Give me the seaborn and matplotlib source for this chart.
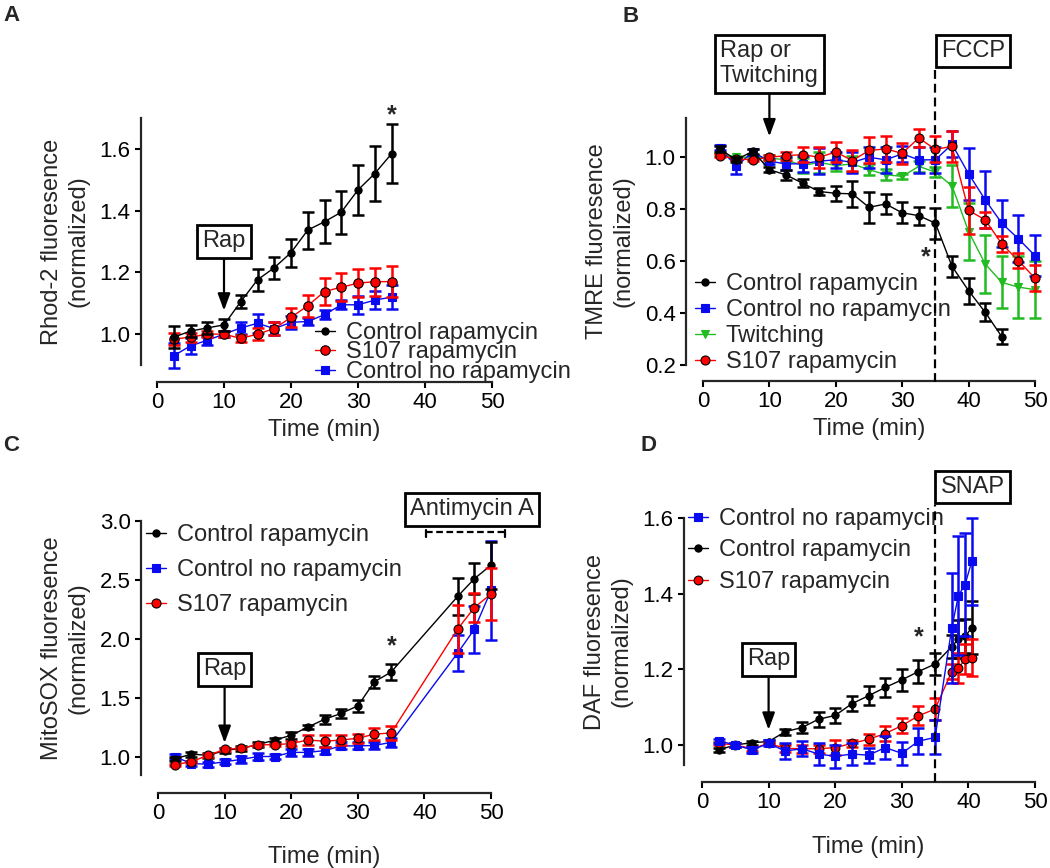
import numpy as np
import pandas as pd
import matplotlib
matplotlib.use('Agg')
import matplotlib.pyplot as plt
import seaborn as sns

sns.set_theme(style='ticks')
plt.rcParams['font.family'] = ['Liberation Sans', 'DejaVu Sans']
plt.rcParams['axes.linewidth'] = 1.6

# ---------------- data ----------------
# Panel A  (Rhod-2)
A_x = [2.5, 5, 7.5, 10, 12.5, 15, 17.5, 20, 22.5, 25, 27.5, 30, 32.5, 35]
A_ctrl_rap = [0.99, 1.01, 1.02, 1.03, 1.105, 1.176, 1.215, 1.264, 1.337, 1.364, 1.395, 1.467, 1.52, 1.584]
A_ctrl_rap_err = [0.035, 0.02, 0.02, 0.02, 0.022, 0.035, 0.035, 0.045, 0.06, 0.07, 0.07, 0.08, 0.09, 0.095]
A_s107 = [0.984, 0.99, 1.0, 1.0, 0.986, 1.0, 1.018, 1.054, 1.092, 1.138, 1.152, 1.165, 1.17, 1.17]
A_s107_err = [0.02, 0.015, 0.01, 0.01, 0.01, 0.02, 0.02, 0.03, 0.035, 0.045, 0.045, 0.045, 0.045, 0.05]
A_norap = [0.93, 0.962, 0.98, 1.0, 1.02, 1.035, 1.018, 1.038, 1.041, 1.063, 1.095, 1.095, 1.11, 1.12]
A_norap_err = [0.04, 0.025, 0.015, 0.01, 0.02, 0.03, 0.02, 0.02, 0.01, 0.015, 0.015, 0.03, 0.03, 0.04]

# Panel B  (TMRE)
B_x = [2.5, 5, 7.5, 10, 12.5, 15, 17.5, 20, 22.5, 25, 27.5, 30, 32.5, 35, 37.5, 40, 42.5, 45, 47.5, 50]
B_ctrl_rap = [1.032, 0.99, 1.023, 0.952, 0.932, 0.90, 0.868, 0.861, 0.859, 0.807, 0.82, 0.786, 0.775, 0.746,
              0.58, 0.486, 0.403, 0.309]
B_ctrl_rap_err = [0.01, 0.01, 0.01, 0.01, 0.02, 0.015, 0.012, 0.03, 0.05, 0.06, 0.04, 0.04, 0.035, 0.06,
                  0.04, 0.05, 0.035, 0.03]
B_norap = [1.036, 0.965, 1.02, 0.985, 0.974, 0.975, 0.985, 0.99, 0.98, 1.0, 0.99, 1.013, 0.99, 0.99,
           1.05, 0.936, 0.836, 0.746, 0.686, 0.621]
B_norap_err = [0.01, 0.03, 0.01, 0.01, 0.025, 0.03, 0.05, 0.03, 0.04, 0.04, 0.05, 0.03, 0.05, 0.05,
               0.05, 0.1, 0.11, 0.09, 0.09, 0.08]
B_twitch = [1.01, 1.0, 1.0, 0.997, 0.99, 0.968, 0.98, 0.968, 0.974, 0.952, 0.933, 0.926, 0.965, 0.942,
            0.89, 0.714, 0.589, 0.518, 0.5, 0.49]
B_twitch_err = [0.005, 0.005, 0.005, 0.01, 0.01, 0.03, 0.04, 0.02, 0.03, 0.02, 0.02, 0.01, 0.02, 0.02,
                0.08, 0.11, 0.11, 0.1, 0.12, 0.11]
B_s107 = [1.006, 0.994, 0.99, 1.0, 1.006, 1.01, 1.0, 1.02, 0.987, 1.026, 1.032, 1.015, 1.074, 1.03,
          1.042, 0.795, 0.759, 0.666, 0.602, 0.534]
B_s107_err = [0.005, 0.005, 0.005, 0.01, 0.015, 0.03, 0.04, 0.04, 0.04, 0.05, 0.05, 0.04, 0.035, 0.05,
              0.06, 0.09, 0.03, 0.03, 0.03, 0.05]

# Panel C  (MitoSOX)
C_x = [2.5, 5, 7.5, 10, 12.5, 15, 17.5, 20, 22.5, 25, 27.5, 30, 32.5, 35, 45, 47.5, 50]
C_ctrl_rap = [0.98, 1.02, 1.01, 1.05, 1.07, 1.10, 1.14, 1.18, 1.25, 1.316, 1.366, 1.43, 1.635, 1.717,
              2.36, 2.51, 2.625]
C_ctrl_rap_err = [0.02, 0.02, 0.02, 0.02, 0.02, 0.02, 0.02, 0.03, 0.02, 0.04, 0.04, 0.05, 0.05, 0.07,
                  0.16, 0.13, 0.2]
C_norap = [1.0, 0.94, 0.935, 0.956, 0.975, 1.0, 1.0, 1.035, 1.035, 1.05, 1.09, 1.09, 1.094, 1.12,
           1.88, 2.08, 2.41]
C_norap_err = [0.02, 0.02, 0.02, 0.02, 0.03, 0.03, 0.02, 0.03, 0.03, 0.03, 0.03, 0.03, 0.03, 0.04,
               0.15, 0.2, 0.42]
C_s107 = [0.93, 0.956, 1.01, 1.06, 1.07, 1.10, 1.10, 1.11, 1.14, 1.13, 1.14, 1.155, 1.19, 1.2,
          2.083, 2.265, 2.38]
C_s107_err = [0.01, 0.01, 0.01, 0.01, 0.01, 0.01, 0.01, 0.02, 0.04, 0.05, 0.04, 0.04, 0.05, 0.06,
              0.2, 0.12, 0.22]

# Panel D  (DAF)
D_x = [2.5, 5, 7.5, 10, 12.5, 15, 17.5, 20, 22.5, 25, 27.5, 30, 32.5, 35, 37.5, 38.5, 39.5, 40.5]
D_norap = [1.011, 1.0, 0.987, 1.004, 0.984, 0.99, 0.976, 0.97, 0.976, 0.973, 0.993, 0.978, 1.01, 1.02,
           1.309, 1.395, 1.424, 1.485]
D_norap_err = [0.005, 0.005, 0.008, 0.008, 0.02, 0.02, 0.03, 0.03, 0.03, 0.02, 0.03, 0.03, 0.035, 0.045,
               0.146, 0.158, 0.136, 0.115]
D_ctrl_rap = [0.987, 1.0, 1.006, 1.009, 1.035, 1.046, 1.068, 1.078, 1.109, 1.13, 1.152, 1.172, 1.194, 1.214,
              1.26, 1.28, 1.287, 1.31]
D_ctrl_rap_err = [0.005, 0.005, 0.005, 0.005, 0.008, 0.015, 0.02, 0.02, 0.02, 0.025, 0.025, 0.03, 0.03, 0.03,
                  0.03, 0.05, 0.045, 0.07]
D_s107 = [1.004, 1.0, 0.99, 1.004, 0.991, 0.99, 0.99, 0.993, 1.004, 1.015, 1.03, 1.051, 1.077, 1.095,
          1.194, 1.203, 1.227, 1.231]
D_s107_err = [0.005, 0.005, 0.005, 0.005, 0.01, 0.01, 0.01, 0.02, 0.01, 0.015, 0.02, 0.02, 0.025, 0.03,
              0.02, 0.04, 0.04, 0.05]

X_TICKS = [0, 10, 20, 30, 40, 50]

BLACK = '#000000'
BLUE = '#0A0AF0'
RED = '#FF0000'
GREEN = '#22BB22'

W, H = 1050, 868
fig = plt.figure(figsize=(10.5, 8.68), dpi=100)
PX = 0.72  # points per pixel


def make_ax(x0, x1, yt, yb, ylim, yticks, yfmt, ylabel, out_l, out_b, ylpad, xlpad):
    ax = fig.add_axes([x0 / W, 1 - yb / H, (x1 - x0) / W, (yb - yt) / H])
    ax.set_xlim(0, 50)
    ax.set_ylim(*ylim)
    for s in ['top', 'right']:
        ax.spines[s].set_visible(False)
    ax.spines['left'].set_position(('outward', out_l * PX))
    ax.spines['bottom'].set_position(('outward', out_b * PX))
    ax.spines['left'].set_linewidth(1.6)
    ax.spines['bottom'].set_linewidth(1.6)
    ax.set_xticks(X_TICKS)
    ax.set_yticks(yticks)
    ax.set_yticklabels([yfmt.format(v) for v in yticks])
    ax.tick_params(direction='out', length=4.5, width=1.5, labelsize=16, pad=3, colors='black')
    ax.set_xlabel('Time (min)', fontsize=17, labelpad=xlpad)
    ax.set_ylabel(ylabel, fontsize=17, labelpad=ylpad, linespacing=1.3)
    ax.patch.set_alpha(0)
    return ax


def series(ax, x, y, err, color, marker, ms, mec, label, z):
    ax.errorbar(x, y, yerr=err, fmt='none', ecolor=color, elinewidth=1.8, capsize=4,
                capthick=1.8, zorder=z, clip_on=False)
    sns.lineplot(x=x, y=y, ax=ax, color=color, marker=marker, markersize=ms,
                 markeredgecolor=mec, markeredgewidth=0.8, linewidth=1.0, label=label,
                 zorder=z + 0.5, clip_on=False, errorbar=None, sort=False)


def legend(ax, handles_order, x_px, y_top_px, spacing):
    h, l = ax.get_legend_handles_labels()
    d = dict(zip(l, h))
    ax.legend([d[k] for k in handles_order], handles_order, loc='upper left',
              bbox_to_anchor=(x_px / W, 1 - y_top_px / H), bbox_transform=fig.transFigure,
              frameon=False, fontsize=17, handlelength=0.85, handletextpad=0.45,
              labelspacing=spacing, borderpad=0, borderaxespad=0)


def boxed(ax, text, xy_text, xy_tip=None, ha='center'):
    bbox = dict(boxstyle='square,pad=0.22', fc='white', ec='black', lw=2)
    if xy_tip is None:
        ax.annotate(text, xy=xy_text, xytext=xy_text, ha=ha, va='center', fontsize=17,
                    bbox=bbox, annotation_clip=False, zorder=10, multialignment='left')
    else:
        ax.annotate(text, xy=xy_tip, xytext=xy_text, ha=ha, va='center', fontsize=17,
                    bbox=bbox, annotation_clip=False, zorder=10, multialignment='left',
                    arrowprops=dict(arrowstyle='-|>,head_length=0.6,head_width=0.22',
                                    color='black', lw=1.6, shrinkA=0, shrinkB=0))


def star(ax, x, y):
    ax.text(x, y, '*', ha='center', va='center', fontsize=18, fontweight='bold', clip_on=False)


# ---------------- Panel A ----------------
axA = make_ax(157, 492, 118, 365, (0.9, 1.7), [1.0, 1.2, 1.4, 1.6], '{:.1f}',
              'Rhod-2 fluoresence\n(normalized)', 16, 17, 7, 4)
series(axA, A_x, A_norap, A_norap_err, BLUE, 's', 5.5, BLUE, 'Control no rapamycin', 2)
series(axA, A_x, A_s107, A_s107_err, RED, 'o', 6.8, BLACK, 'S107 rapamycin', 3)
series(axA, A_x, A_ctrl_rap, A_ctrl_rap_err, BLACK, 'o', 5.2, BLACK, 'Control rapamycin', 4)
legend(axA, ['Control rapamycin', 'S107 rapamycin', 'Control no rapamycin'], 315, 322, -0.11)
boxed(axA, 'Rap', (10, 1.30), (10, 1.076))
star(axA, 35, 1.71)

# ---------------- Panel B ----------------
axB = make_ax(703, 1035, 118, 365, (0.2, 1.151), [0.2, 0.4, 0.6, 0.8, 1.0], '{:.1f}',
              'TMRE fluoresence\n(normalized)', 17, 16, 7, 4)
series(axB, B_x, B_twitch, B_twitch_err, GREEN, 'v', 6.2, GREEN, 'Twitching', 2)
series(axB, B_x, B_norap, B_norap_err, BLUE, 's', 6.0, BLUE, 'Control no rapamycin', 3)
series(axB, B_x, B_s107, B_s107_err, RED, 'o', 6.5, BLACK, 'S107 rapamycin', 4)
series(axB, B_x[:len(B_ctrl_rap)], B_ctrl_rap, B_ctrl_rap_err, BLACK, 'o', 5.2, BLACK,
       'Control rapamycin', 5)
legend(axB, ['Control rapamycin', 'Control no rapamycin', 'Twitching', 'S107 rapamycin'], 695, 273, 0.17)
boxed(axB, 'Rap or\nTwitching', (10, 1.36), (10, 1.08))
boxed(axB, 'FCCP', (40.7, 1.41))
axB.plot([35, 35], [0.134, 1.34], color='black', lw=1.6, ls=(0, (4, 2.2)), clip_on=False, zorder=6)
star(axB, 33.6, 0.615)

# ---------------- Panel C ----------------
axC = make_ax(158, 491, 521, 775, (0.843, 3.0), [1.0, 1.5, 2.0, 2.5, 3.0], '{:.1f}',
              'MitoSOX fluoresence\n(normalized)', 17, 17.6, 7, 16)
series(axC, C_x, C_norap, C_norap_err, BLUE, 's', 5.5, BLUE, 'Control no rapamycin', 2)
series(axC, C_x, C_ctrl_rap, C_ctrl_rap_err, BLACK, 'o', 5.2, BLACK, 'Control rapamycin', 3)
series(axC, C_x, C_s107, C_s107_err, RED, 'o', 6.5, BLACK, 'S107 rapamycin', 4)
legend(axC, ['Control rapamycin', 'Control no rapamycin', 'S107 rapamycin'], 146, 524, 0.56)
boxed(axC, 'Rap', (10, 1.74), (10, 1.115))
boxed(axC, 'Antimycin A', (47.1, 3.098))
axC.plot([40.2, 52.1], [2.907, 2.907], color='black', lw=1.6, ls=(0, (3, 1.6)), clip_on=False)
for xe in [40.2, 52.1]:
    axC.plot([xe, xe], [2.925, 2.86], color='black', lw=1.6, clip_on=False)
star(axC, 35.1, 1.94)

# ---------------- Panel D ----------------
axD = make_ax(702, 1035, 518, 765, (0.947, 1.6), [1.0, 1.2, 1.4, 1.6], '{:.1f}',
              'DAF fluoresence\n(normalized)', 18, 17, 7, 16)
series(axD, D_x, D_ctrl_rap, D_ctrl_rap_err, BLACK, 'o', 5.2, BLACK, 'Control rapamycin', 2)
series(axD, D_x, D_s107, D_s107_err, RED, 'o', 6.3, BLACK, 'S107 rapamycin', 3)
series(axD, D_x, D_norap, D_norap_err, BLUE, 's', 6.0, BLUE, 'Control no rapamycin', 4)
legend(axD, ['Control no rapamycin', 'Control rapamycin', 'S107 rapamycin'], 688, 508, 0.4)
boxed(axD, 'Rap', (10, 1.226), (10, 1.04))
boxed(axD, 'SNAP', (40.6, 1.682))
axD.plot([35, 35], [0.902, 1.634], color='black', lw=1.6, ls=(0, (4, 2.2)), clip_on=False, zorder=6)
star(axD, 32.6, 1.285)

# panel letters
for lab, (px, py) in {'A': (3, 5), 'B': (623, 6), 'C': (3, 435), 'D': (640, 435)}.items():
    fig.text(px / W, 1 - py / H, lab, fontsize=16, fontweight='bold', ha='left', va='top')

fig.savefig('out.png', dpi=100)
